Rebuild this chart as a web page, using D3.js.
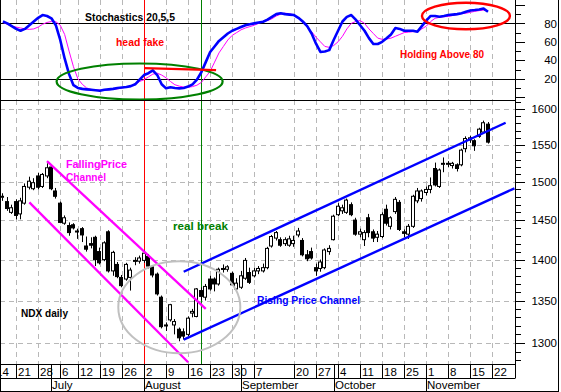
<!DOCTYPE html>
<html><head><meta charset="utf-8">
<script src="https://cdn.jsdelivr.net/npm/d3@7/dist/d3.min.js"></script>
<style>
body{margin:0;background:#fff;}
svg{display:block;font-family:"Liberation Sans",Arial,sans-serif;}
</style>
</head><body>
<svg id="c" width="561" height="392"></svg>
<script>
// ---------- DATA (NDX daily 2004) ----------
const dates = [
"06-16","06-17","06-18","06-21","06-22","06-23","06-24","06-25","06-28","06-29","06-30",
"07-01","07-02","07-06","07-07","07-08","07-09","07-12","07-13","07-14","07-15","07-16","07-19","07-20","07-21","07-22","07-23","07-26","07-27","07-28","07-29","07-30",
"08-02","08-03","08-04","08-05","08-06","08-09","08-10","08-11","08-12","08-13","08-16","08-17","08-18","08-19","08-20","08-23","08-24","08-25","08-26","08-27","08-30","08-31",
"09-01","09-02","09-03","09-07","09-08","09-09","09-10","09-13","09-14","09-15","09-16","09-17","09-20","09-21","09-22","09-23","09-24","09-27","09-28","09-29","09-30",
"10-01","10-04","10-05","10-06","10-07","10-08","10-11","10-12","10-13","10-14","10-15","10-18","10-19","10-20","10-21","10-22","10-25","10-26","10-27","10-28","10-29",
"11-01","11-02","11-03","11-04","11-05","11-08","11-09","11-10","11-11","11-12","11-15","11-16","11-17","11-18","11-19"];
const opens = [
1480,1474,1460,1474,1458,1472,1493,1491,1508,1494,1508,
1520,1488,1472,1446,1443,1444,1436,1439,1417,1420,1428,1410,1400,1435,1386,1394,1378,1376,1378,1398,1398,
1399,1404,1391,1382,1354,1320,1327,1321,1316,1313,1310,1335,1331,1362,1354,1376,1376,1370,1388,1388,1383,1364,
1366,1377,1384,1380,1386,1386,1390,1417,1427,1425,1420,1418,1420,1431,1424,1406,1410,1390,1389,1390,1410,
1425,1457,1462,1460,1470,1450,1432,1425,1453,1435,1428,1429,1464,1442,1461,1473,1435,1432,1442,1475,1478,
1486,1490,1518,1494,1524,1524,1522,1523,1523,1545,1557,1556,1562,1568,1579];
const highs = [
1485,1480,1470,1477,1479,1498,1507,1505,1512,1512,1525,
1523,1492,1474,1456,1447,1446,1439,1441,1429,1428,1430,1415,1423,1437,1411,1397,1381,1396,1390,1403,1405,
1412,1407,1393,1384,1356,1324,1346,1328,1318,1317,1331,1340,1365,1366,1370,1380,1378,1390,1394,1393,1385,1377,
1386,1402,1390,1390,1392,1395,1416,1431,1436,1428,1428,1430,1430,1440,1427,1412,1415,1395,1400,1414,1418,
1457,1472,1470,1478,1473,1453,1439,1437,1458,1438,1436,1460,1470,1455,1480,1476,1438,1445,1483,1492,1490,
1494,1506,1526,1518,1533,1528,1527,1525,1545,1562,1563,1558,1574,1584,1582];
const lows = [
1475,1462,1458,1451,1451,1470,1490,1489,1490,1492,1505,
1489,1478,1446,1444,1430,1438,1426,1422,1410,1414,1392,1394,1398,1384,1380,1377,1366,1374,1362,1393,1395,
1396,1389,1378,1356,1317,1314,1325,1310,1302,1304,1308,1330,1330,1350,1350,1362,1361,1368,1384,1385,1368,1362,
1364,1375,1370,1378,1382,1384,1388,1415,1424,1416,1417,1416,1416,1428,1404,1398,1400,1380,1385,1388,1406,
1424,1455,1458,1458,1455,1430,1428,1417,1428,1422,1422,1427,1443,1438,1458,1436,1428,1426,1440,1472,1474,
1482,1485,1494,1492,1513,1520,1518,1514,1521,1540,1553,1542,1560,1566,1552];
const closes = [
1481,1465,1466,1456,1475,1494,1501,1499,1493,1510,1519,
1491,1481,1447,1453,1434,1440,1435,1431,1413,1418,1400,1396,1421,1386,1409,1379,1368,1394,1387,1399,1402,
1408,1392,1381,1358,1319,1321,1345,1325,1306,1308,1329,1337,1364,1355,1367,1364,1370,1388,1389,1391,1369,1371,
1380,1399,1372,1386,1389,1390,1414,1429,1434,1418,1425,1426,1424,1436,1406,1401,1402,1386,1397,1412,1414,
1455,1468,1466,1476,1457,1432,1435,1434,1434,1427,1432,1457,1446,1453,1477,1438,1433,1442,1481,1488,1488,
1490,1495,1496,1516,1525,1525,1525,1518,1543,1559,1560,1549,1572,1581,1554];
// Stochastics 20,5,5 : %K (blue) and %D (magenta)
const stochK = [
82,80,77,74,72,74,78,82,86,89,88,
85.5,78,62,42,25,13,10,9,8.5,8,7.5,7,8,8.5,9,10,10.5,11,12,14,19,
24,26,29,24,14,9.6,10.7,10,9.6,10,11.5,14,19,27,38,49,55,61,65,69,72,74,
76,78,79,80,81,81.8,84,87,90,91,90,89.5,89,86,82,77,69,58,49,49.5,51,
62,72,82,87,89,84,78,72,64,57.6,57.6,60,63.8,68,75,74,72,72,72,71,77,
83,88,88,87.2,88,89,89.5,90,91,92.5,94,94.4,95,96,92.6];
const stochD = [
81,79,77,76,75,74,73.5,74,76,79,81,
82,81.8,78,68,50,33,20,14,10,8.5,8,7.8,7.8,8,8.5,9,10,11,12,14,17,
19,22,25,26,24,21,17,13.5,12,11,10.7,11.5,13,16,22,28,38,48,55,62,67,70,
73,75,76.5,78,80,82,83,85,88,90,91,90.5,89,86,81,76,71,65,60,55,54,
56,60,66,74,80,82,83,80,74,69,64,62.7,63,64,66,68,70,70.5,71,71,74,
77,82,85.5,86.5,87.2,87.5,88.5,89.5,90.5,91,92,93,93.8,94.4,93.7];
// calendar padding (non-data trading days used by the axis)
const daysBefore = ["06-14","06-15"];
const daysAfter = ["11-22","11-23","11-24","11-26","11-29","11-30"];
const dateTicks = ["06-14","06-21","06-28","07-06","07-12","07-19","07-26","08-02","08-09","08-16","08-23","08-30","09-07","09-20","09-27","10-04","10-11","10-18","10-25","11-01","11-08","11-15","11-22"];
const monthStarts = ["07-01","08-02","09-01","10-01","11-01"];
const monthNames = ["July","August","September","October","November"];
const priceTicks = [1300,1350,1400,1450,1500,1550,1600];
const stochTicks = [20,40,60,80];
// trendlines: [date, price]
const fallingUpper = [["06-30",1528],["08-20",1340]];
const fallingLower = [["06-24",1473],["08-16",1278]];
const risingUpper = [["08-13",1385],["11-26",1581]];
const risingLower = [["08-13",1304],["11-30",1491.5]];

(function(){
// ---------- LAYOUT ----------
const svg = d3.select("#c");
const W = 561, H = 392;
const plotR = 515.5;
const topY0 = 0, topY1 = 100, botY0 = 100, botY1 = 364, dateRowY1 = 378, monthRowY1 = 391.5;

const calendar = daysBefore.concat(dates, daysAfter);
const xi = d3.scaleLinear().domain([0, calendar.length - 1]).range([-5.92, -5.92 + 4.41 * (calendar.length - 1)]);
const x = d => xi(calendar.indexOf(d));
const y = d3.scaleLog().domain([1300, 1600]).range([343, 109.3]);
const ys = d3.scaleLinear().domain([0, 100]).range([97.2, 4.9]);

const defs = svg.append("defs");
defs.append("clipPath").attr("id","clipTop").append("rect").attr("x",0).attr("y",topY0).attr("width",plotR).attr("height",topY1-topY0);
defs.append("clipPath").attr("id","clipBot").append("rect").attr("x",0).attr("y",botY0).attr("width",plotR).attr("height",botY1-botY0);

svg.append("rect").attr("width",W).attr("height",H).attr("fill","#fff");

const gridColor = "#b8b8b8";
const vTicks = dateTicks.filter(d => x(d) > 0);
[[topY0,topY1],[botY0,botY1]].forEach(([a,b]) => {
  svg.append("g").selectAll("line").data(vTicks).join("line")
    .attr("x1", d => Math.round(x(d))+0.5).attr("x2", d => Math.round(x(d))+0.5)
    .attr("y1", a).attr("y2", b)
    .attr("stroke", gridColor).attr("stroke-dasharray","5,4").attr("stroke-width",1);
});
svg.append("g").selectAll("line").data(priceTicks).join("line")
  .attr("x1",0).attr("x2",plotR)
  .attr("y1", d => Math.round(y(d))+0.5).attr("y2", d => Math.round(y(d))+0.5)
  .attr("stroke", gridColor).attr("stroke-dasharray","5,4");

svg.append("g").selectAll("line").data([80,20]).join("line")
  .attr("x1",0).attr("x2",plotR)
  .attr("y1", d => Math.round(ys(d))+0.5).attr("y2", d => Math.round(ys(d))+0.5)
  .attr("stroke","#000");

svg.append("line").attr("x1",Math.round(x("08-02"))+0.5).attr("x2",Math.round(x("08-02"))+0.5)
  .attr("y1",0).attr("y2",botY1).attr("stroke","#ff0000");
svg.append("line").attr("x1",Math.round(x("08-19"))+0.5).attr("x2",Math.round(x("08-19"))+0.5)
  .attr("y1",0).attr("y2",botY1).attr("stroke","#008000");

// ---------- TOP PANEL ----------
const topG = svg.append("g").attr("clip-path","url(#clipTop)");
const lineK = d3.line().x((d,i) => x(dates[i])).y(d => ys(d));
topG.append("path").datum(stochD).attr("d", lineK).attr("fill","none").attr("stroke","#ff00ff").attr("stroke-width",1);
topG.append("path").datum(stochK).attr("d", lineK).attr("fill","none").attr("stroke","#0000ff").attr("stroke-width",2.6).attr("stroke-linejoin","round");

topG.append("ellipse").attr("cx", x("07-30")).attr("cy", ys(17)).attr("rx",83).attr("ry",18)
  .attr("fill","none").attr("stroke","#008000").attr("stroke-width",2.2);
topG.append("line").attr("x1", x("08-02")).attr("y1", ys(31.6)).attr("x2", x("08-24")+1.5).attr("y2", ys(29.4))
  .attr("stroke","#ff0000").attr("stroke-width",2.2);
topG.append("ellipse").attr("cx", x("11-12")).attr("cy", ys(88)).attr("rx",44).attr("ry",13.3)
  .attr("fill","none").attr("stroke","#ff0000").attr("stroke-width",2.4);

function label(g, txt, cx0, cy, w, color, size){
  g.append("text").attr("x",cx0).attr("y",cy).attr("dy","0.35em")
    .attr("font-size",size||11).attr("font-weight","bold").attr("fill",color)
    .attr("textLength",w).attr("lengthAdjust","spacingAndGlyphs").text(txt);
}
label(svg, "Stochastics 20,5,5", 85, 16.5, 90, "#000", 11.5);
label(svg, "head fake", 116, 42, 48, "#ff0000", 11.5);
label(svg, "Holding Above 80", 400, 53.5, 84, "#ff0000", 11.5);

// ---------- BOTTOM PANEL ----------
const botG = svg.append("g").attr("clip-path","url(#clipBot)");
const bars = dates.map((d,i) => ({d, o:opens[i], h:highs[i], l:lows[i], c:closes[i]}));
const cg = botG.append("g");
cg.selectAll("line").data(bars).join("line")
  .attr("x1", b => Math.floor(x(b.d))+0.5).attr("x2", b => Math.floor(x(b.d))+0.5)
  .attr("y1", b => y(b.h)).attr("y2", b => y(b.l))
  .attr("stroke","#000").attr("stroke-width",1);
cg.selectAll("rect").data(bars).join("rect")
  .attr("x", b => Math.floor(x(b.d))-1.5).attr("width",3)
  .attr("y", b => y(Math.max(b.o,b.c))).attr("height", b => Math.max(1, Math.abs(y(b.o)-y(b.c))))
  .attr("fill", b => b.c >= b.o ? "#fff" : "#000").attr("stroke","#000").attr("stroke-width",1);

const tl = d3.line().x(p => x(p[0])).y(p => y(p[1]));
botG.append("path").datum(fallingUpper).attr("d",tl).attr("stroke","#ff00ff").attr("stroke-width",2.3).attr("fill","none");
botG.append("path").datum(fallingLower).attr("d",tl).attr("stroke","#ff00ff").attr("stroke-width",2.3).attr("fill","none");
botG.append("path").datum(risingUpper).attr("d",tl).attr("stroke","#0000ff").attr("stroke-width",2.4).attr("fill","none");
botG.append("path").datum(risingLower).attr("d",tl).attr("stroke","#0000ff").attr("stroke-width",2.4).attr("fill","none");
botG.append("ellipse").attr("cx", x("08-12")).attr("cy", y(1342)).attr("rx",61).attr("ry",46)
  .attr("fill","none").attr("stroke","#c0c0c0").attr("stroke-width",2);

label(svg, "FallingPrice", 66, 163.5, 61, "#ff00ff", 11.5);
label(svg, "Channel", 66, 176.5, 40, "#ff00ff", 11.5);
label(svg, "real break", 173, 225.5, 55, "#008000", 11.5);
label(svg, "Rising Price Channel", 257, 299.5, 103, "#0000ff", 11.5);
label(svg, "NDX daily", 21, 312.5, 47, "#000", 11.5);

// ---------- FRAME & AXES ----------
const k = "#000";
svg.append("line").attr("x1",0).attr("x2",plotR).attr("y1",100.5).attr("y2",100.5).attr("stroke",k);
svg.append("line").attr("x1",0).attr("x2",plotR).attr("y1",botY1+0.5).attr("y2",botY1+0.5).attr("stroke",k);
svg.append("line").attr("x1",0).attr("x2",plotR).attr("y1",dateRowY1+0.5).attr("y2",dateRowY1+0.5).attr("stroke",k);
svg.append("line").attr("x1",0).attr("x2",559).attr("y1",monthRowY1).attr("y2",monthRowY1).attr("stroke",k);
svg.append("line").attr("x1",0.5).attr("x2",0.5).attr("y1",0).attr("y2",392).attr("stroke",k);
svg.append("line").attr("x1",558.5).attr("x2",558.5).attr("y1",0).attr("y2",392).attr("stroke",k);
svg.append("line").attr("x1",plotR).attr("x2",plotR).attr("y1",0).attr("y2",dateRowY1).attr("stroke",k);

const minorP = d3.range(1280, 1611, 10).filter(v => priceTicks.indexOf(v) < 0 && y(v) > botY0 && y(v) < botY1);
const axP = svg.append("g").attr("transform",`translate(${plotR},0)`);
axP.call(d3.axisRight(y).tickValues(minorP).tickSize(5).tickFormat(""));
axP.append("g").call(d3.axisRight(y).tickValues(priceTicks).tickSize(9).tickFormat(d3.format("d")));
const axS = svg.append("g").attr("transform",`translate(${plotR},0)`);
axS.call(d3.axisRight(ys).tickValues([10,30,50,70,90]).tickSize(5).tickFormat(""));
axS.append("g").call(d3.axisRight(ys).tickValues([0,20,40,60,80,100]).tickSize(9).tickFormat(d => stochTicks.indexOf(d) >= 0 ? d : ""));
[axP, axS].forEach(a => {
  a.selectAll(".domain").remove();
  a.selectAll("line").attr("stroke","#000").attr("shape-rendering","crispEdges");
  a.selectAll("text").attr("x", 557 - plotR).attr("text-anchor","end")
    .attr("font-size",11.5).attr("font-family","Liberation Sans, Arial, sans-serif").attr("fill","#000");
});

const dg = svg.append("g");
dateTicks.forEach(d => {
  const px = Math.round(x(d)) + 0.5;
  dg.append("line").attr("x1",px).attr("x2",px).attr("y1",botY1).attr("y2",dateRowY1).attr("stroke",k);
  dg.append("text").attr("x",px+1.5).attr("y",376).attr("font-size",11.5).attr("fill","#000")
    .text(String(parseInt(d.slice(3),10)));
});
monthStarts.forEach((d,i) => {
  const px = Math.round(x(d)) + 0.5;
  dg.append("line").attr("x1",px).attr("x2",px).attr("y1",botY1).attr("y2",monthRowY1).attr("stroke",k);
  dg.append("text").attr("x",px+0.5).attr("y",388.5).attr("font-size",11.5).attr("fill","#000").text(monthNames[i]);
});
})();
</script>
</body></html>
